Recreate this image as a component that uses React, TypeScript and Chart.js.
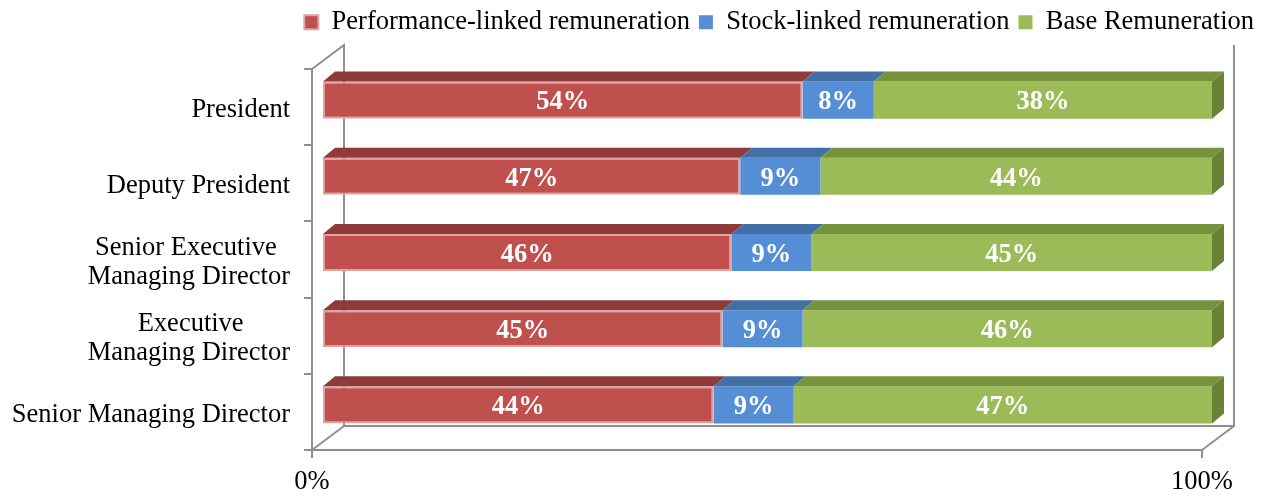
import React, { useEffect, useRef } from "react";
import { Chart, registerables } from "chart.js";

Chart.register(...registerables);

// ---- data ----
const categories: (string | string[])[] = [
  "President",
  "Deputy President",
  ["Senior Executive  ", "Managing Director"],
  ["Executive       ", "Managing Director"],
  "Senior Managing Director",
];
const seriesNames = [
  "Performance-linked remuneration",
  "Stock-linked remuneration",
  "Base Remuneration",
];
const performanceLinked = [54, 47, 46, 45, 44];
const stockLinked = [8, 9, 9, 9, 9];
const baseRemuneration = [38, 44, 45, 46, 47];
const xTickLabels = ["0%", "100%"];

// ---- styles ----
const FRONT = ["#C0504D", "#558ED5", "#9BBB59"];
const TOPC = ["#8E3B39", "#4270A6", "#76923C"];
const SIDE = ["#7A302E", "#3A6396", "#6A8236"];
const BORDER = ["#E0A3A1", "#558ED5", "#9BBB59"];
const FRAME = "#8F8F8F";
const FONT = "'Liberation Serif', 'Times New Roman', serif";
const FDX = 32, FDY = -24; // frame depth
const BX = 10, BY = -7; // bar offset inside depth
const TDX = 12, TDY = -10; // bar depth

const threeD = {
  id: "threeD",
  beforeDatasetsDraw(chart: any) {
    const { ctx, chartArea, scales } = chart;
    const x0 = scales.x.getPixelForValue(0);
    const x1 = scales.x.getPixelForValue(100);
    const yT = chartArea.top;
    const yB = chartArea.bottom;
    ctx.save();
    ctx.strokeStyle = FRAME;
    ctx.lineWidth = 2;
    ctx.beginPath();
    ctx.moveTo(x0, yT);
    ctx.lineTo(x0 + FDX, yT + FDY);
    ctx.lineTo(x0 + FDX, yB + FDY);
    ctx.lineTo(x1 + FDX, yB + FDY);
    ctx.lineTo(x1 + FDX, yT + FDY);
    ctx.moveTo(x0, yB);
    ctx.lineTo(x0 + FDX, yB + FDY);
    ctx.moveTo(x1, yB);
    ctx.lineTo(x1 + FDX, yB + FDY);
    ctx.stroke();
    ctx.restore();
    ctx.save();
    ctx.translate(BX, BY);
  },
  afterDatasetsDraw(chart: any) {
    const ctx = chart.ctx;
    const n = chart.data.datasets.length;
    for (let d = 0; d < n; d++) {
      const meta = chart.getDatasetMeta(d);
      meta.data.forEach((el: any) => {
        const { x, y, base, height } = el.getProps(["x", "y", "base", "height"], true);
        const top = y - height / 2;
        const bot = y + height / 2;
        const l = Math.min(x, base);
        const r = Math.max(x, base);
        ctx.fillStyle = TOPC[d];
        ctx.beginPath();
        ctx.moveTo(l, top);
        ctx.lineTo(r, top);
        ctx.lineTo(r + TDX, top + TDY);
        ctx.lineTo(l + TDX, top + TDY);
        ctx.closePath();
        ctx.fill();
        if (d === n - 1) {
          ctx.fillStyle = SIDE[d];
          ctx.beginPath();
          ctx.moveTo(r, top);
          ctx.lineTo(r + TDX, top + TDY);
          ctx.lineTo(r + TDX, bot + TDY);
          ctx.lineTo(r, bot);
          ctx.closePath();
          ctx.fill();
        }
      });
    }
    ctx.fillStyle = "#FFFFFF";
    ctx.font = `bold 26.5px ${FONT}`;
    ctx.textAlign = "center";
    ctx.textBaseline = "middle";
    for (let d = 0; d < n; d++) {
      const meta = chart.getDatasetMeta(d);
      const values = chart.data.datasets[d].data;
      meta.data.forEach((el: any, i: number) => {
        const { x, y, base } = el.getProps(["x", "y", "base"], true);
        ctx.fillText(`${values[i]}%`, (x + base) / 2, y + 2.5);
      });
    }
    ctx.restore();
  },
};

export default function App() {
  const ref = useRef<HTMLCanvasElement | null>(null);
  useEffect(() => {
    document.body.style.margin = "0";
    const canvas = ref.current;
    if (!canvas) return;
    const series = [performanceLinked, stockLinked, baseRemuneration];
    const chart = new Chart(canvas, {
      type: "bar",
      data: {
        labels: categories as any,
        datasets: series.map((arr, i) => ({
          label: seriesNames[i],
          data: arr,
          backgroundColor: FRONT[i],
          borderColor: BORDER[i],
          borderWidth: i === 0 ? 2 : 0,
          borderSkipped: false,
          categoryPercentage: 1,
          barPercentage: 0.487,
          clip: false as any,
        })),
      },
      options: {
        indexAxis: "y",
        responsive: false,
        animation: false,
        layout: { padding: 0 },
        plugins: {
          legend: {
            position: "top",
            align: "end",
            labels: {
              boxWidth: 14,
              boxHeight: 14,
              padding: 9,
              color: "#000",
              font: { family: FONT, size: 26.5 },
            },
          },
          tooltip: { enabled: false },
        },
        scales: {
          x: {
            stacked: true,
            min: 0,
            max: 100,
            position: "bottom",
            ticks: {
              stepSize: 100,
              color: "#000",
              font: { family: FONT, size: 26.5, lineHeight: 1.2 },
              padding: 8,
              maxRotation: 0,
              autoSkip: false,
              callback: (_v: any, idx: number) => xTickLabels[idx],
            },
            grid: {
              display: true,
              drawOnChartArea: false,
              drawTicks: true,
              tickLength: 8,
              color: FRAME,
              lineWidth: 2,
            },
            border: { display: true, color: FRAME, width: 2 },
            afterFit(s: any) {
              s.height = 46;
            },
          },
          y: {
            stacked: true,
            position: "left",
            ticks: {
              color: "#000",
              font: { family: FONT, size: 26.5, lineHeight: 1.1 },
              padding: 14,
              labelOffset: 3,
              crossAlign: "near",
              autoSkip: false,
            },
            grid: {
              display: true,
              drawOnChartArea: false,
              drawTicks: true,
              tickLength: 8,
              color: FRAME,
              lineWidth: 2,
              offset: true,
            },
            border: { display: true, color: FRAME, width: 2 },
            afterFit(s: any) {
              s.width = 312;
            },
          },
          xTop: {
            type: "linear",
            position: "top",
            display: true,
            ticks: { display: false },
            grid: { display: false },
            border: { display: false },
            afterFit(s: any) {
              s.height = 23.5;
            },
          },
          yRight: {
            type: "linear",
            position: "right",
            display: true,
            ticks: { display: false },
            grid: { display: false },
            border: { display: false },
            afterFit(s: any) {
              s.width = 61;
            },
          },
        },
      } as any,
      plugins: [threeD],
    });
    return () => chart.destroy();
  }, []);
  return (
    <div style={{ width: 1263, height: 496 }}>
      <canvas ref={ref} width={1263} height={496} />
    </div>
  );
}
